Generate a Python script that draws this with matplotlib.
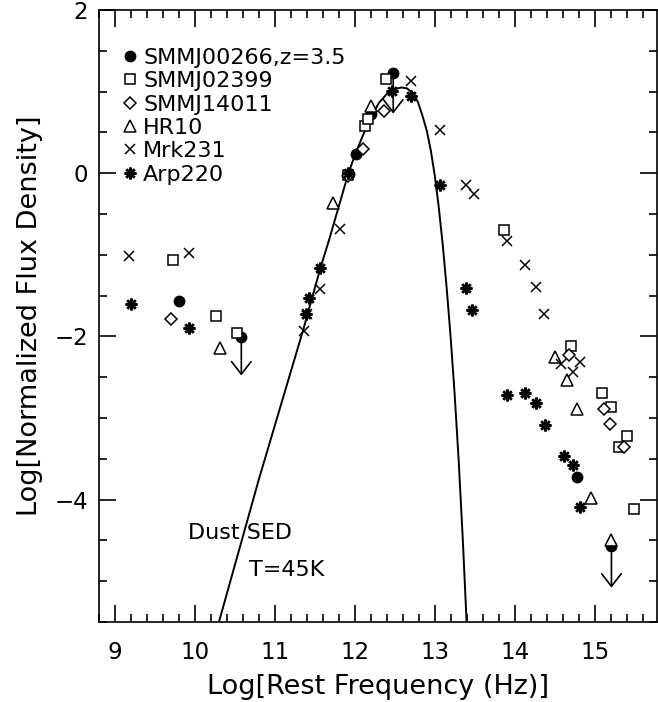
import matplotlib
matplotlib.use("Agg")
from matplotlib import pyplot as plt
from matplotlib.ticker import MultipleLocator

# log frequency / log flux pairs
smm00266X = [9.80, 11.93, 12.01, 12.20, 14.78]
smm00266Y = [-1.57, -0.01, 0.23, 0.72, -3.72]
# upper limits: (x, y, arrow tip y)
limitsX = [10.58, 12.48, 15.21]
limitsY = [-2.01, 1.23, -4.57]
limitsTip = [-2.48, 0.73, -5.08]

smm02399X = [9.73, 10.26, 10.52, 11.92, 12.13, 12.17, 12.39, 13.87, 14.71, 15.09, 15.21, 15.40, 15.30, 15.49]
smm02399Y = [-1.06, -1.75, -1.96, -0.02, 0.58, 0.66, 1.15, -0.70, -2.12, -2.70, -2.87, -3.22, -3.35, -4.11]

smm14011X = [9.70, 11.91, 12.10, 12.37, 14.68, 15.12, 15.19, 15.37]
smm14011Y = [-1.79, -0.04, 0.30, 0.76, -2.23, -2.89, -3.08, -3.35]

hr10X = [10.31, 11.73, 12.20, 14.51, 14.65, 14.78, 14.96, 15.21]
hr10Y = [-2.14, -0.37, 0.82, -2.25, -2.53, -2.89, -3.98, -4.49]

mrk231X = [9.17, 9.92, 11.36, 11.40, 11.56, 11.81, 12.70, 13.07, 13.39, 13.49,
           13.90, 14.13, 14.26, 14.37, 14.58, 14.82, 14.73]
mrk231Y = [-1.02, -0.98, -1.94, -1.72, -1.42, -0.69, 1.13, 0.53, -0.14, -0.25,
           -0.83, -1.12, -1.39, -1.72, -2.34, -2.32, -2.44]

arp220X = [9.20, 9.92, 11.39, 11.43, 11.57, 11.92, 12.47, 12.70, 13.07, 13.39, 13.47,
           13.90, 14.13, 14.26, 14.38, 14.62, 14.73, 14.82]
arp220Y = [-1.60, -1.90, -1.72, -1.53, -1.16, 0.00, 1.01, 0.95, -0.15, -1.41, -1.68,
           -2.72, -2.70, -2.82, -3.09, -3.46, -3.58, -4.09]

# dust SED curve
sedX = [10.30, 10.80, 11.36, 11.57, 11.68, 11.92, 12.00, 12.10, 12.20, 12.30, 12.40,
        12.50, 12.58, 12.65, 12.73, 12.79, 12.85, 12.90, 12.95, 13.00, 13.05, 13.10,
        13.15, 13.20, 13.25, 13.30, 13.35, 13.40]
sedY = [-5.50, -3.75, -1.90, -1.16, -0.81, 0.00, 0.22, 0.46, 0.68, 0.86, 0.97,
        1.03, 1.05, 1.04, 0.98, 0.87, 0.69, 0.52, 0.28, -0.03, -0.42, -0.88,
        -1.42, -2.03, -2.73, -3.54, -4.48, -5.54]

plt.rcParams["font.family"] = "DejaVu Sans"
plt.rcParams["font.size"] = 16

fig = plt.figure(figsize=(6.58, 7.02), dpi=100)
ax = fig.add_axes([0.1505, 0.114, 0.848, 0.8718])

ax.plot(sedX, sedY, color="black", lw=1.4)

lw = 1.1
ax.plot(smm00266X + limitsX, smm00266Y + limitsY, "o", color="black", ms=7.5,
        label="SMMJ00266,z=3.5")
ax.plot(smm02399X, smm02399Y, "s", mfc="white", mec="black", ms=7.5, mew=lw, label="SMMJ02399")
ax.plot(smm14011X, smm14011Y, "D", mfc="white", mec="black", ms=6.5, mew=lw, label="SMMJ14011")
ax.plot(hr10X, hr10Y, "^", mfc="white", mec="black", ms=8, mew=lw, label="HR10")
ax.plot(mrk231X, mrk231Y, "x", color="black", ms=7.5, mew=lw, label="Mrk231")
ax.plot(arp220X, arp220Y, marker=(8, 2, 0), ls="none", color="black", ms=8.5, mew=1.8,
        label="Arp220")

for x, y, tip in zip(limitsX, limitsY, limitsTip):
    ax.annotate("", xy=(x, tip), xytext=(x, y),
                arrowprops=dict(arrowstyle="->,head_length=0.45,head_width=0.35",
                                mutation_scale=20, color="black", lw=1.2,
                                shrinkA=0, shrinkB=0))

ax.text(9.91, -4.41, "Dust SED", ha="left", va="center", fontsize=16)
ax.text(10.67, -4.86, "T=45K", ha="left", va="center", fontsize=16)

ax.legend(loc="upper left", bbox_to_anchor=(0.039, 0.938), frameon=False,
          handlelength=0.8, handletextpad=0.2, labelspacing=0.15, borderpad=0,
          borderaxespad=0, fontsize=16)

ax.set_xlim(8.8, 15.78)
ax.set_ylim(-5.5, 2.0)
ax.xaxis.set_major_locator(MultipleLocator(1))
ax.xaxis.set_minor_locator(MultipleLocator(0.2))
ax.yaxis.set_major_locator(MultipleLocator(2))
ax.yaxis.set_minor_locator(MultipleLocator(0.5))
ax.tick_params(which="both", direction="in", top=True, right=True, width=1.2,
               labelsize=16.5)
ax.tick_params(which="major", length=12)
ax.tick_params(which="minor", length=6)
ax.tick_params(axis="x", pad=14)
ax.tick_params(axis="y", pad=8)
for s in ax.spines.values():
    s.set_linewidth(1.2)

ax.set_xlabel("Log[Rest Frequency (Hz)]", fontsize=19.5, labelpad=7)
ax.set_ylabel("Log[Normalized Flux Density]", fontsize=19.5, labelpad=8)

fig.savefig("out.png", dpi=100)
